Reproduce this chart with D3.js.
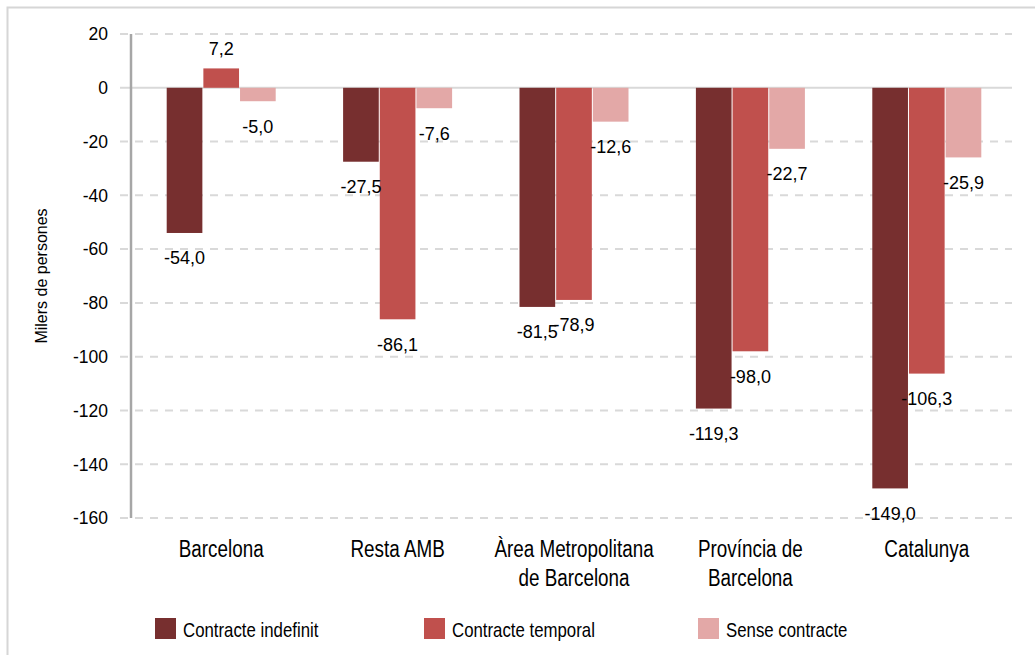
<!DOCTYPE html>
<html>
<head>
<meta charset="utf-8">
<script src="https://cdn.jsdelivr.net/npm/d3@7"></script>
<style>
  body { margin: 0; background: #fff; }
  text { font-family: "Liberation Sans", Arial, sans-serif; }
</style>
</head>
<body>
<div id="chart"></div>
<script>
// categories (each label split into its lines)
var categories = ["Barcelona", "Resta AMB", "Àrea Metropolitana de Barcelona", "Província de Barcelona", "Catalunya"];
var categoryLines = [["Barcelona"], ["Resta AMB"], ["Àrea Metropolitana", "de Barcelona"], ["Província de", "Barcelona"], ["Catalunya"]];

// series, thousands of people
var seriesNames = ["Contracte indefinit", "Contracte temporal", "Sense contracte"];
var indefinit = [-54.0, -27.5, -81.5, -119.3, -149.0];
var temporal = [7.2, -86.1, -78.9, -98.0, -106.3];
var senseContracte = [-5.0, -7.6, -12.6, -22.7, -25.9];

var yTicks = [20, 0, -20, -40, -60, -80, -100, -120, -140, -160];

var colors = ["#772f2f", "#c0504d", "#e3a8a7"];
var seriesValues = [indefinit, temporal, senseContracte];

var W = 1035, H = 655;
var condense = 0.82; // no narrow font installed, squeeze the words instead

var svg = d3.select("#chart").append("svg")
    .attr("width", W)
    .attr("height", H);

svg.append("rect")
    .attr("width", W).attr("height", H)
    .attr("fill", "#fff");

// outer frame, runs off the right and bottom edges
svg.append("rect")
    .attr("x", 7.5).attr("y", 7.5)
    .attr("width", W + 20).attr("height", H + 20)
    .attr("fill", "none")
    .attr("stroke", "#d6d6d6")
    .attr("stroke-width", 2);

var y = d3.scaleLinear().domain([-160, 20]).range([518, 34]);

var x0 = d3.scaleBand().domain(categories).range([133, 1015]);
var groupWidth = 110;
var x1 = d3.scaleBand().domain(seriesNames).range([0, groupWidth]);

// gridlines
svg.append("g").selectAll("line")
    .data(yTicks)
    .join("line")
    .attr("x1", 120).attr("x2", 1012)
    .attr("y1", function(d) { return y(d); })
    .attr("y2", function(d) { return y(d); })
    .attr("stroke", "#d9d9d9")
    .attr("stroke-width", 2)
    .attr("stroke-dasharray", function(d) { return d === 0 ? null : "8,7"; });

// y tick labels
svg.append("g").selectAll("text")
    .data(yTicks)
    .join("text")
    .attr("x", 108)
    .attr("y", function(d) { return y(d); })
    .attr("dy", "0.36em")
    .attr("text-anchor", "end")
    .attr("font-size", "17.5px")
    .attr("fill", "#000")
    .text(function(d) { return d; });

// y axis line
svg.append("line")
    .attr("x1", 131).attr("x2", 131)
    .attr("y1", y(20)).attr("y2", y(-160))
    .attr("stroke", "#a6a6a6")
    .attr("stroke-width", 2.5);

// flatten to one record per bar
var bars = [];
categories.forEach(function(c, i) {
    seriesNames.forEach(function(s, j) {
        bars.push({ cat: c, series: s, idx: j, value: seriesValues[j][i] });
    });
});

function barX(d) {
    var center = x0(d.cat) + x0.bandwidth() / 2;
    return center - groupWidth / 2 + x1(d.series);
}

svg.append("g").selectAll("rect")
    .data(bars)
    .join("rect")
    .attr("x", function(d) { return barX(d) + 0.5; })
    .attr("width", x1.bandwidth() - 1)
    .attr("y", function(d) { return y(Math.max(0, d.value)); })
    .attr("height", function(d) { return Math.abs(y(d.value) - y(0)); })
    .attr("fill", function(d) { return colors[d.idx]; });

// value labels
var fmt = function(v) { return d3.format(".1f")(v).replace(".", ",").replace("−", "-"); };
svg.append("g").selectAll("text")
    .data(bars)
    .join("text")
    .attr("x", function(d) { return barX(d) + x1.bandwidth() / 2; })
    .attr("y", function(d) { return d.value >= 0 ? y(d.value) - 20 : y(d.value) + 25; })
    .attr("dy", "0.36em")
    .attr("text-anchor", "middle")
    .attr("font-size", "18px")
    .attr("fill", "#000")
    .text(function(d) { return fmt(d.value); });

// category labels
var catG = svg.append("g").selectAll("g")
    .data(categories)
    .join("g")
    .attr("transform", function(d) {
        return "translate(" + (x0(d) + x0.bandwidth() / 2) + ",557) scale(" + condense + ",1)";
    });

catG.each(function(d, i) {
    var g = d3.select(this);
    categoryLines[i].forEach(function(line, k) {
        g.append("text")
            .attr("y", k * 29)
            .attr("text-anchor", "middle")
            .attr("font-size", "23px")
            .attr("fill", "#000")
            .text(line);
    });
});

// y axis title
svg.append("text")
    .attr("transform", "translate(47,276) rotate(-90)")
    .attr("text-anchor", "middle")
    .attr("font-size", "16px")
    .attr("fill", "#000")
    .text("Milers de persones");

// legend
var legendX = [155, 424, 698];
var legend = svg.append("g").selectAll("g")
    .data(seriesNames)
    .join("g")
    .attr("transform", function(d, i) { return "translate(" + legendX[i] + ",618)"; });

legend.append("rect")
    .attr("width", 21).attr("height", 21)
    .attr("fill", function(d, i) { return colors[i]; });

legend.append("text")
    .attr("transform", "translate(28,19) scale(" + condense + ",1)")
    .attr("font-size", "20.5px")
    .attr("fill", "#000")
    .text(function(d) { return d; });
</script>
</body>
</html>
